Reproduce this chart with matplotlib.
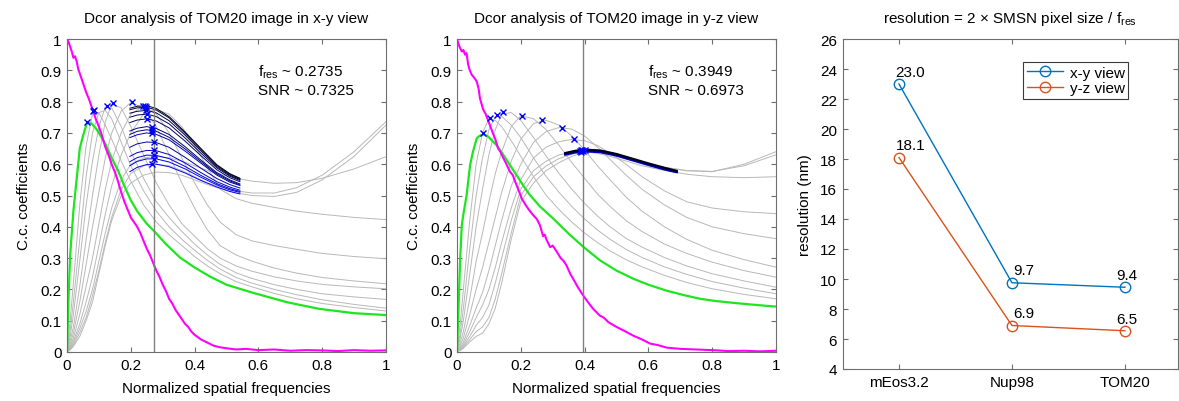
import matplotlib
matplotlib.use("Agg")
import matplotlib.pyplot as plt
import numpy as np

plt.rcParams['font.family'] = ['Liberation Sans', 'DejaVu Sans']
plt.rcParams['mathtext.fontset'] = 'custom'
plt.rcParams['mathtext.rm'] = 'Liberation Sans'
plt.rcParams['mathtext.it'] = 'Liberation Sans:italic'
FS = 11
plt.rcParams['font.size'] = FS

# ---------------- data: panel 1 (x-y view) ----------------
fres_xy = 0.2735
snr_xy = 0.7325
mag_xy_x = [0, 0.005, 0.01, 0.015, 0.02, 0.025, 0.03, 0.035, 0.04, 0.05, 0.06, 0.07, 0.08, 0.09, 0.1,
            0.11, 0.12, 0.13, 0.14, 0.15, 0.16, 0.17, 0.18, 0.19, 0.2, 0.21, 0.22, 0.23, 0.24, 0.25,
            0.26, 0.27, 0.28, 0.29, 0.3, 0.31, 0.32, 0.33, 0.34, 0.35, 0.36, 0.37, 0.38, 0.39, 0.4,
            0.42, 0.44, 0.46, 0.48, 0.5, 0.53, 0.56, 0.6, 0.65, 0.7, 0.75, 0.8, 0.85, 0.9, 0.95, 1.0]
mag_xy_y = [1.0, 0.99, 0.975, 0.96, 0.94, 0.945, 0.93, 0.905, 0.89, 0.86, 0.83, 0.805, 0.775, 0.745, 0.72,
            0.69, 0.655, 0.63, 0.6, 0.575, 0.545, 0.51, 0.48, 0.455, 0.43, 0.415, 0.4, 0.38, 0.355, 0.33,
            0.31, 0.285, 0.26, 0.24, 0.215, 0.195, 0.17, 0.155, 0.135, 0.12, 0.105, 0.09, 0.08, 0.065, 0.055,
            0.04, 0.03, 0.02, 0.015, 0.012, 0.008, 0.01, 0.006, 0.008, 0.004, 0.006, 0.005, 0.003, 0.006, 0.004, 0.005]
green_xy_x = [0, 0.005, 0.01, 0.02, 0.03, 0.04, 0.05, 0.062, 0.07, 0.077, 0.09, 0.1, 0.12, 0.14, 0.16,
              0.18, 0.2, 0.22, 0.25, 0.276, 0.31, 0.354, 0.4, 0.45, 0.5, 0.58, 0.69, 0.79, 0.9, 1.0]
green_xy_y = [0.0, 0.18, 0.31, 0.45, 0.55, 0.65, 0.69, 0.73, 0.732, 0.73, 0.715, 0.70, 0.665, 0.62, 0.58,
              0.53, 0.485, 0.45, 0.41, 0.383, 0.345, 0.302, 0.27, 0.24, 0.215, 0.19, 0.159, 0.138, 0.124, 0.118]
gray_x = [0, 0.01, 0.02, 0.04, 0.06, 0.08, 0.10, 0.12, 0.14, 0.17, 0.20, 0.24, 0.28, 0.32, 0.36,
          0.40, 0.44, 0.48, 0.53, 0.58, 0.65, 0.72, 0.80, 0.90, 1.0]
gray_xy = [
    [0, .1, .22, .47, .66, .76, .765, .725, .68, .61, .545, .47, .415, .375, .34, .305, .275, .25, .225, .208, .187, .17, .155, .142, .131],
    [0, .07, .16, .36, .56, .70, .765, .772, .745, .67, .595, .515, .45, .4, .36, .325, .293, .265, .238, .22, .2, .183, .167, .152, .14],
    [0, .05, .12, .29, .47, .61, .72, .783, .78, .72, .64, .555, .48, .43, .385, .345, .31, .28, .253, .235, .215, .2, .186, .176, .168],
    [0, .035, .08, .21, .36, .5, .63, .735, .792, .78, .72, .63, .54, .47, .41, .37, .33, .3, .275, .258, .24, .227, .216, .208, .202],
    [0, .025, .06, .16, .28, .4, .51, .62, .7, .77, .797, .78, .72, .63, .54, .46, .39, .34, .31, .29, .268, .252, .238, .227, .218],
    [0, .018, .045, .12, .21, .3, .41, .52, .61, .7, .76, .786, .76, .7, .62, .54, .47, .415, .375, .355, .34, .328, .315, .305, .298],
    [0, .014, .035, .09, .16, .24, .34, .44, .53, .63, .7, .76, .775, .76, .72, .66, .59, .52, .49, .475, .462, .45, .44, .43, .423],
    [0, .011, .028, .075, .13, .2, .29, .38, .46, .55, .6, .62, .625, .62, .61, .595, .58, .568, .555, .546, .539, .541, .555, .585, .624],
    [0, .009, .022, .062, .11, .18, .26, .35, .43, .52, .57, .595, .6, .595, .58, .56, .54, .528, .515, .508, .508, .525, .565, .64, .736],
    [0, .007, .018, .05, .1, .16, .25, .34, .42, .5, .54, .565, .575, .573, .565, .55, .535, .522, .508, .5, .497, .51, .55, .625, .725],
]
blue_xy_x = [0.197, 0.22, 0.25, 0.28, 0.32, 0.37, 0.42, 0.47, 0.51, 0.542]
blue_xy = [
    [0.779, 0.785, 0.787, 0.778, 0.752, 0.703, 0.65, 0.598, 0.57, 0.555],
    [0.774, 0.780, 0.782, 0.773, 0.748, 0.699, 0.647, 0.596, 0.568, 0.554],
    [0.763, 0.769, 0.772, 0.764, 0.739, 0.693, 0.642, 0.592, 0.565, 0.551],
    [0.750, 0.757, 0.760, 0.752, 0.729, 0.684, 0.635, 0.588, 0.562, 0.548],
    [0.733, 0.741, 0.745, 0.738, 0.716, 0.674, 0.627, 0.582, 0.557, 0.544],
    [0.706, 0.715, 0.720, 0.714, 0.695, 0.656, 0.613, 0.573, 0.550, 0.537],
    [0.695, 0.705, 0.710, 0.705, 0.686, 0.649, 0.608, 0.569, 0.547, 0.534],
    [0.685, 0.694, 0.700, 0.695, 0.678, 0.642, 0.603, 0.565, 0.543, 0.532],
    [0.654, 0.665, 0.671, 0.669, 0.654, 0.622, 0.587, 0.554, 0.535, 0.524],
    [0.625, 0.637, 0.644, 0.643, 0.631, 0.604, 0.573, 0.544, 0.527, 0.517],
    [0.608, 0.621, 0.629, 0.628, 0.618, 0.593, 0.564, 0.538, 0.522, 0.513],
    [0.595, 0.609, 0.617, 0.617, 0.607, 0.585, 0.558, 0.534, 0.518, 0.510],
    [0.576, 0.590, 0.599, 0.600, 0.592, 0.572, 0.548, 0.527, 0.513, 0.505],
]
mark_xy_x = [0.062, 0.083, 0.085, 0.124, 0.143, 0.205, 0.237, 0.245, 0.247, 0.249, 0.25, 0.25, 0.265,
             0.265, 0.265, 0.273, 0.273, 0.273, 0.272, 0.265]
mark_xy_y = [0.734, 0.770, 0.774, 0.787, 0.797, 0.798, 0.787, 0.787, 0.782, 0.772, 0.76, 0.745, 0.72,
             0.71, 0.70, 0.672, 0.645, 0.63, 0.618, 0.60]

# ---------------- data: panel 2 (y-z view) ----------------
fres_yz = 0.3949
snr_yz = 0.6973
mag_yz_x = [0, 0.008, 0.015, 0.02, 0.025, 0.03, 0.035, 0.04, 0.046, 0.055, 0.062, 0.068, 0.072, 0.082,
            0.09, 0.103, 0.114, 0.12, 0.129, 0.137, 0.145, 0.155, 0.166, 0.175, 0.182, 0.19, 0.203, 0.215,
            0.225, 0.239, 0.25, 0.26, 0.27, 0.275, 0.28, 0.292, 0.3, 0.313, 0.325, 0.335, 0.344, 0.355,
            0.365, 0.38, 0.396, 0.41, 0.425, 0.448, 0.46, 0.475, 0.5, 0.52, 0.553, 0.58, 0.605, 0.63,
            0.657, 0.7, 0.75, 0.8, 0.85, 0.9, 0.95, 1.0]
mag_yz_y = [1.0, 0.975, 0.96, 0.965, 0.95, 0.955, 0.918, 0.9, 0.886, 0.875, 0.864, 0.84, 0.81, 0.775,
            0.76, 0.725, 0.695, 0.68, 0.65, 0.638, 0.62, 0.6, 0.576, 0.565, 0.545, 0.525, 0.49, 0.47,
            0.455, 0.437, 0.425, 0.405, 0.37, 0.375, 0.36, 0.335, 0.34, 0.32, 0.3, 0.29, 0.275, 0.25,
            0.232, 0.205, 0.18, 0.16, 0.14, 0.116, 0.11, 0.095, 0.08, 0.07, 0.052, 0.04, 0.027, 0.022,
            0.014, 0.01, 0.008, 0.006, 0.003, 0.004, 0.002, 0.004]
green_yz_x = [0, 0.005, 0.01, 0.015, 0.02, 0.03, 0.041, 0.05, 0.062, 0.07, 0.077, 0.085, 0.098, 0.11,
              0.124, 0.145, 0.166, 0.19, 0.21, 0.229, 0.26, 0.302, 0.35, 0.396, 0.448, 0.5, 0.553, 0.6,
              0.657, 0.71, 0.762, 0.81, 0.866, 0.93, 1.0]
green_yz_y = [0, 0.15, 0.3, 0.405, 0.44, 0.5, 0.597, 0.64, 0.683, 0.69, 0.693, 0.695, 0.688, 0.675,
              0.661, 0.63, 0.597, 0.56, 0.528, 0.501, 0.465, 0.426, 0.378, 0.336, 0.293, 0.26, 0.234,
              0.215, 0.196, 0.182, 0.17, 0.163, 0.157, 0.151, 0.145]
gray_yz = [
    [0, .09, .2, .42, .6, .7, .745, .74, .72, .675, .625, .56, .5, .455, .415, .38, .35, .323, .295, .272, .245, .222, .202, .184, .17],
    [0, .06, .14, .33, .5, .62, .71, .752, .753, .725, .685, .62, .56, .51, .465, .425, .39, .36, .328, .302, .272, .248, .225, .204, .186],
    [0, .045, .1, .25, .4, .52, .63, .71, .76, .765, .74, .685, .625, .57, .52, .475, .435, .4, .363, .335, .302, .275, .25, .227, .207],
    [0, .03, .065, .17, .29, .38, .48, .57, .64, .72, .755, .745, .71, .66, .605, .555, .505, .465, .42, .385, .345, .315, .287, .26, .239],
    [0, .02, .045, .12, .2, .27, .35, .43, .51, .61, .68, .73, .74, .725, .69, .645, .595, .55, .495, .45, .4, .36, .325, .295, .271],
    [0, .014, .032, .085, .14, .19, .26, .34, .42, .53, .6, .67, .705, .717, .712, .69, .655, .615, .565, .52, .47, .43, .4, .378, .362],
    [0, .01, .024, .065, .11, .15, .2, .27, .35, .46, .55, .62, .655, .672, .679, .675, .66, .635, .6, .56, .515, .48, .46, .448, .442],
    [0, .008, .019, .05, .085, .11, .15, .22, .3, .42, .52, .58, .61, .63, .638, .64, .635, .625, .61, .595, .58, .568, .56, .557, .56],
    [0, .006, .015, .04, .065, .08, .11, .17, .25, .38, .5, .56, .595, .618, .632, .64, .638, .632, .618, .604, .59, .58, .577, .595, .63],
    [0, .005, .012, .032, .05, .06, .09, .14, .22, .36, .48, .54, .58, .605, .625, .638, .637, .632, .619, .605, .59, .579, .576, .6, .64],
]
blue_yz_x = [0.339, 0.37, 0.40, 0.45, 0.5, 0.55, 0.6, 0.65, 0.689]
blue_yz = [
    [0.636, 0.643, 0.647, 0.644, 0.633, 0.618, 0.603, 0.589, 0.579],
    [0.634, 0.641, 0.645, 0.642, 0.631, 0.616, 0.601, 0.587, 0.577],
    [0.632, 0.639, 0.643, 0.640, 0.629, 0.614, 0.599, 0.585, 0.575],
    [0.630, 0.637, 0.641, 0.638, 0.627, 0.612, 0.597, 0.583, 0.574],
]
mark_yz_x = [0.083, 0.103, 0.124, 0.143, 0.203, 0.265, 0.328, 0.367, 0.385, 0.39, 0.393, 0.396, 0.40, 0.388]
mark_yz_y = [0.699, 0.747, 0.757, 0.768, 0.755, 0.741, 0.717, 0.679, 0.642, 0.644, 0.645, 0.643, 0.645, 0.640]

# ---------------- data: panel 3 ----------------
samples = ['mEos3.2', 'Nup98', 'TOM20']
res_xy = [23.0, 9.7, 9.4]
res_yz = [18.1, 6.9, 6.5]
res_xy_plot = [23.0, 9.75, 9.45]
res_yz_plot = [18.1, 6.9, 6.55]

# ---------------- figure ----------------
W, H = 1179, 402
fig = plt.figure(figsize=(W / 100, H / 100), dpi=100)

FRAME = '#6e6e6e'
GRAY = '#b8b8b8'


def style_axes(ax):
    for s in ax.spines.values():
        s.set_color(FRAME)
        s.set_linewidth(0.8)
    ax.tick_params(direction='in', length=3.5, width=0.8, color=FRAME,
                   top=True, right=True, labelsize=FS, pad=4)


def dcor_panel(rect, title, mag_x, mag_y, g_x, g_y, grays, b_x, blues, mk_x, mk_y,
               fres, snr, bw, bmax):
    ax = fig.add_axes(rect)
    for g in grays:
        ax.plot(gray_x, g, color=GRAY, lw=0.7)
    n = len(blues)
    for i in range(n - 1, -1, -1):
        t = i / max(n - 1, 1)
        ax.plot(b_x, blues[i], color=(0, 0, 0.1 + bmax * t), lw=bw)
    ax.plot(g_x, g_y, color='#1ee61e', lw=1.6)
    ax.plot(mag_x, mag_y, color='#ff00ff', lw=1.5)
    ax.axvline(fres, color='#808080', lw=1.0)
    ax.plot(mk_x, mk_y, 'x', color='#0000ff', ms=5, mew=1.0, ls='none')
    ax.set_xlim(0, 1)
    ax.set_ylim(0, 1)
    ax.set_xticks([0, 0.2, 0.4, 0.6, 0.8, 1])
    ax.set_xticklabels(['0', '0.2', '0.4', '0.6', '0.8', '1'])
    ax.set_yticks(np.arange(0, 1.01, 0.1))
    ax.set_yticklabels(['0', '0.1', '0.2', '0.3', '0.4', '0.5', '0.6', '0.7', '0.8', '0.9', '1'])
    ax.set_xlabel('Normalized spatial frequencies', fontsize=FS, labelpad=7)
    ax.set_ylabel('C.c. coefficients', fontsize=FS, labelpad=7)
    ax.set_title(title, fontsize=FS, pad=12)
    ax.text(0.6, 0.898, r'$\mathrm{f_{res}}$ ~ %.4f' % fres, fontsize=FS, va='center')
    ax.text(0.6, 0.838, 'SNR ~ %.4f' % snr, fontsize=FS, va='center')
    style_axes(ax)
    return ax


ax1 = dcor_panel([67 / W, 1 - 353 / H, 319 / W, 313 / H],
                 'Dcor analysis of TOM20 image in x-y view',
                 mag_xy_x, mag_xy_y, green_xy_x, green_xy_y, gray_xy,
                 blue_xy_x, blue_xy, mark_xy_x, mark_xy_y, fres_xy, snr_xy, 0.7, 0.9)
ax2 = dcor_panel([457 / W, 1 - 353 / H, 319 / W, 313 / H],
                 'Dcor analysis of TOM20 image in y-z view',
                 mag_yz_x, mag_yz_y, green_yz_x, green_yz_y, gray_yz,
                 blue_yz_x, blue_yz, mark_yz_x, mark_yz_y, fres_yz, snr_yz, 1.4, 0.8)

# right panel
ax3 = fig.add_axes([842.5 / W, 1 - 370 / H, 335.5 / W, 330 / H])
xpos = np.arange(1, len(samples) + 1)
c_xy = '#0072BD'
c_yz = '#D95319'
ax3.plot(xpos, res_xy_plot, '-o', color=c_xy, lw=1.0, ms=7.5, mfc='none', mew=1.0, label='x-y view')
ax3.plot(xpos, res_yz_plot, '-o', color=c_yz, lw=1.0, ms=7.5, mfc='none', mew=1.0, label='y-z view')
dx = [-0.03, 0.01, -0.08]
for i in range(len(samples)):
    ax3.text(xpos[i] + dx[i], res_xy_plot[i] + 0.55, '%.1f' % res_xy[i], fontsize=FS, ha='left', va='baseline')
    ax3.text(xpos[i] + dx[i], res_yz_plot[i] + 0.55, '%.1f' % res_yz[i], fontsize=FS, ha='left', va='baseline')
ax3.set_xlim(0.5, 3.47)
ax3.set_ylim(4, 26)
ax3.set_xticks(xpos)
ax3.set_xticklabels(samples)
ax3.set_yticks(np.arange(4, 27, 2))
ax3.set_ylabel('resolution (nm)', fontsize=FS, labelpad=6)
ax3.set_title(r'resolution = 2 × SMSN pixel size / $\mathrm{f_{res}}$', fontsize=FS, pad=12)
style_axes(ax3)
leg = ax3.legend(loc='upper left', bbox_to_anchor=(0.538, 0.931), fontsize=FS,
                 frameon=True, fancybox=False, edgecolor='#3a3a3a', framealpha=1,
                 handlelength=2.4, handletextpad=0.4, labelspacing=0.12, borderpad=0.25,
                 borderaxespad=0)
leg.get_frame().set_linewidth(0.8)

fig.savefig('out.png', dpi=100)
